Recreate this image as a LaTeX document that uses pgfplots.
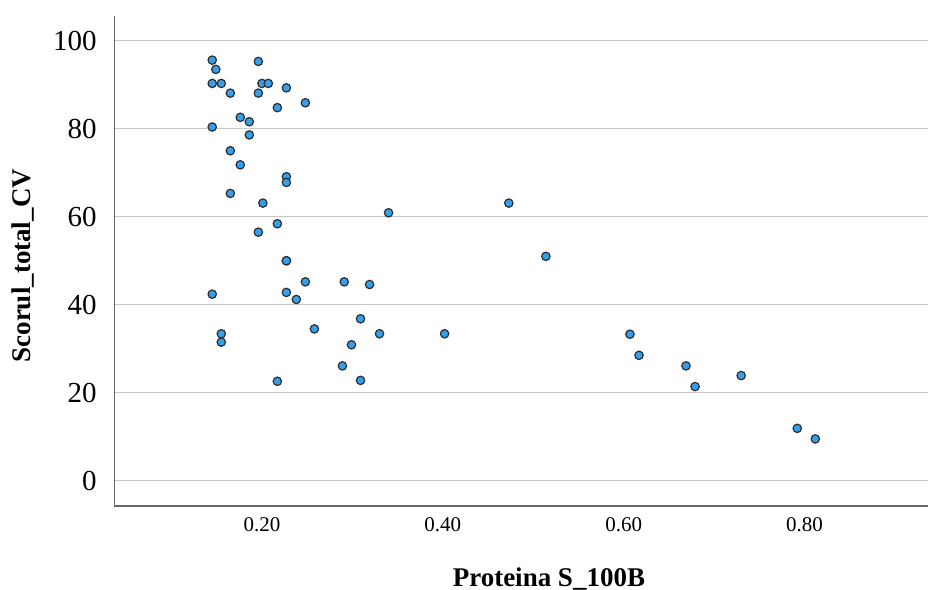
\documentclass[border=0pt]{standalone}
\usepackage{pgfplots}
\pgfplotsset{compat=1.18}
\usepackage{fontspec}
\setmainfont{Liberation Serif}
\definecolor{ptfill}{RGB}{52,160,236}
\definecolor{ptedge}{RGB}{45,45,45}
\definecolor{gridc}{RGB}{200,200,200}
\definecolor{axc}{RGB}{105,105,105}
\begin{document}
\begin{tikzpicture}
\begin{axis}[
  scale only axis,
  width=406.75pt, height=245.15pt,
  xmin=0.0369, xmax=0.9366,
  ymin=-5.75, ymax=105.7,
  axis lines=left,
  axis line style={-, draw=axc, line width=0.8pt},
  major tick length=0pt,
  xtick={0.2,0.4,0.6,0.8},
  ytick={0,20,40,60,80,100},
  ymajorgrids,
  grid style={draw=gridc, line width=0.6pt},
  /pgf/number format/assume math mode=true,
  xticklabel style={font=\fontsize{10.5}{12}\selectfont, inner sep=0pt, anchor=north, yshift=-5.5pt,
     /pgf/number format/.cd, fixed, fixed zerofill, precision=2},
  yticklabel style={font=\fontsize{14.5}{17}\selectfont, inner sep=0pt, anchor=east, xshift=-8.75pt},
  xlabel={Proteina S\_100B},
  ylabel={Scorul\_total\_CV},
  xlabel style={font=\fontsize{13.5}{16}\bfseries, at={(axis description cs:0.534,-0.1646)}, anchor=base, inner sep=0pt},
  ylabel style={font=\fontsize{13.5}{16}\bfseries, at={(axis description cs:-0.1125,0.49)}, anchor=center, inner sep=0pt, rotate=0},
  clip=false,
]
\addplot[only marks, mark=*, mark size=2.1pt, mark options={fill=ptfill, draw=ptedge, line width=0.6pt}]
coordinates {
(0.145,95.6) (0.149,93.5) (0.196,95.3) (0.145,90.3) (0.155,90.3)
(0.200,90.3) (0.207,90.3) (0.227,89.3) (0.165,88.1) (0.196,88.1)
(0.248,85.9) (0.217,84.8) (0.176,82.6) (0.186,81.6) (0.145,80.4)
(0.186,78.6) (0.165,75.0) (0.176,71.8) (0.227,69.1) (0.227,67.8)
(0.165,65.3) (0.201,63.1) (0.217,58.4) (0.196,56.5) (0.227,50.0)
(0.227,50.0) (0.248,45.2) (0.291,45.2) (0.319,44.6) (0.145,42.4)
(0.227,42.8) (0.238,41.2) (0.309,36.8) (0.258,34.5) (0.155,33.4)
(0.330,33.4) (0.402,33.4) (0.155,31.5) (0.299,30.9) (0.289,26.1)
(0.217,22.6) (0.309,22.8) (0.340,60.9) (0.473,63.1) (0.514,51.0)
(0.607,33.3) (0.617,28.5) (0.669,26.1) (0.679,21.4) (0.730,23.9)
(0.792,11.9) (0.812,9.5)
};
\end{axis}
\pgfresetboundingbox
\path (-57.25pt,-42pt) rectangle (406.75pt,253pt);
\end{tikzpicture}
\end{document}
